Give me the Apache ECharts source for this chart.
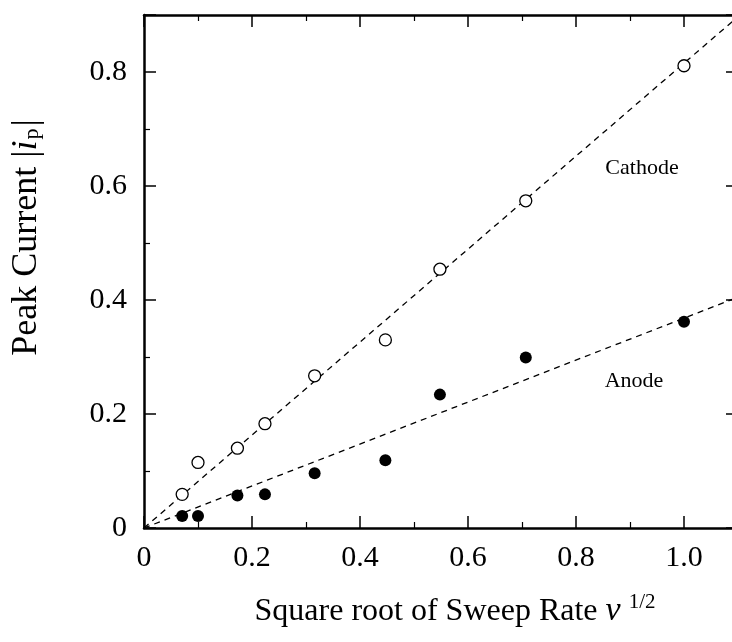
<!DOCTYPE html>
<html>
<head>
<meta charset="utf-8">
<script src="https://cdn.jsdelivr.net/npm/echarts@6/dist/echarts.min.js"></script>
<style>
  html, body { margin: 0; padding: 0; background: #fff; }
  #chart { width: 732px; height: 642px; }
</style>
</head>
<body>
<div id="chart"></div>
<script>
// Square root of sweep rate (x) for each measurement
const sqrtSweepRate = [0.0707, 0.1, 0.173, 0.224, 0.316, 0.447, 0.548, 0.707, 1.0];
// Peak current magnitudes
const cathodeCurrent = [0.059, 0.115, 0.140, 0.183, 0.267, 0.330, 0.454, 0.574, 0.811];
const anodeCurrent   = [0.021, 0.021, 0.057, 0.059, 0.096, 0.119, 0.234, 0.299, 0.362];
// Linear fits through the origin (end points)
const cathodeFitX = [0, 1.1];
const cathodeFitY = [0, 0.897];
const anodeFitX = [0, 1.1];
const anodeFitY = [0, 0.405];
// Axis ranges and tick spacing
const xRange = [0, 1.1];
const yRange = [0, 0.9];
const tickStep = 0.2;

const pairs = (xs, ys) => xs.map((x, i) => [x, ys[i]]);
const SERIF = '"Liberation Serif", "DejaVu Serif", serif';
const fmt = v => (v === 0 ? '0' : v.toFixed(1));

const frameAxis = {
  axisLine: { show: true, onZero: false, lineStyle: { color: '#000', width: 2.5 } },
  axisTick: { show: true, inside: true, length: 12, lineStyle: { color: '#000', width: 1.5 } },
  minorTick: { show: true, splitNumber: 2, length: 6, lineStyle: { color: '#000', width: 1.2 } },
  splitLine: { show: false },
  minorSplitLine: { show: false }
};

const chart = echarts.init(document.getElementById('chart'), null, { renderer: 'canvas' });
chart.setOption({
  animation: false,
  backgroundColor: '#fff',
  grid: { left: 144, top: 15, right: -6, bottom: 114, containLabel: false, outerBoundsMode: 'none' },
  xAxis: [
    Object.assign({
      type: 'value', position: 'bottom', min: xRange[0], max: xRange[1], interval: tickStep,
      axisLabel: { show: true, margin: 15, showMaxLabel: false, formatter: fmt,
        color: '#000', fontFamily: SERIF, fontSize: 30 },
      name: '{t|Square root of Sweep Rate }{nu|ν}{sup|1/2}',
      nameLocation: 'middle', nameGap: 64,
      nameTextStyle: {
        padding: [0, 0, 0, 28],
        rich: {
          t: { fontFamily: SERIF, fontSize: 32, color: '#000' },
          nu: { fontFamily: SERIF, fontSize: 34, fontStyle: 'italic', color: '#000' },
          sup: { fontFamily: SERIF, fontSize: 21, color: '#000', padding: [0, 0, 18, 8] }
        }
      }
    }, frameAxis),
    Object.assign({
      type: 'value', position: 'top', min: xRange[0], max: xRange[1], interval: tickStep,
      axisLabel: { show: false }
    }, frameAxis)
  ],
  yAxis: [
    Object.assign({
      type: 'value', position: 'left', min: yRange[0], max: yRange[1], interval: tickStep,
      axisLabel: { show: true, margin: 17, showMaxLabel: false, formatter: fmt,
        color: '#000', fontFamily: SERIF, fontSize: 30 },
      name: '{t|Peak Current |}{i|i}{sub|p}{t||}',
      nameLocation: 'middle', nameGap: 99, nameRotate: 90,
      nameTextStyle: {
        padding: [0, 0, 0, 68],
        rich: {
          t: { fontFamily: SERIF, fontSize: 36, color: '#000' },
          i: { fontFamily: SERIF, fontSize: 36, fontStyle: 'italic', color: '#000' },
          sub: { fontFamily: SERIF, fontSize: 22, color: '#000', padding: [10, 2, 0, 1] }
        }
      }
    }, frameAxis),
    Object.assign({
      type: 'value', position: 'right', min: yRange[0], max: yRange[1], interval: tickStep,
      axisLabel: { show: false }
    }, frameAxis)
  ],
  series: [
    {
      name: 'Cathode fit', type: 'line', data: pairs(cathodeFitX, cathodeFitY),
      showSymbol: false, symbol: 'none', z: 1, silent: true,
      lineStyle: { color: '#000', width: 1.3, type: [6, 5] }
    },
    {
      name: 'Anode fit', type: 'line', data: pairs(anodeFitX, anodeFitY),
      showSymbol: false, symbol: 'none', z: 1, silent: true,
      lineStyle: { color: '#000', width: 1.3, type: [6, 5] }
    },
    {
      name: 'Cathode', type: 'scatter', data: pairs(sqrtSweepRate, cathodeCurrent),
      symbol: 'circle', symbolSize: 12, z: 3,
      itemStyle: { color: '#fff', borderColor: '#000', borderWidth: 1.3, opacity: 1 }
    },
    {
      name: 'Anode', type: 'scatter', data: pairs(sqrtSweepRate, anodeCurrent),
      symbol: 'circle', symbolSize: 12, z: 3,
      itemStyle: { color: '#000', opacity: 1 }
    }
  ],
  graphic: [
    { type: 'text', x: 642, y: 168, z: 10,
      style: { text: 'Cathode', fill: '#000', font: '22px ' + SERIF, align: 'center', verticalAlign: 'middle' } },
    { type: 'text', x: 634, y: 381, z: 10,
      style: { text: 'Anode', fill: '#000', font: '22px ' + SERIF, align: 'center', verticalAlign: 'middle' } }
  ]
});
</script>
</body>
</html>
